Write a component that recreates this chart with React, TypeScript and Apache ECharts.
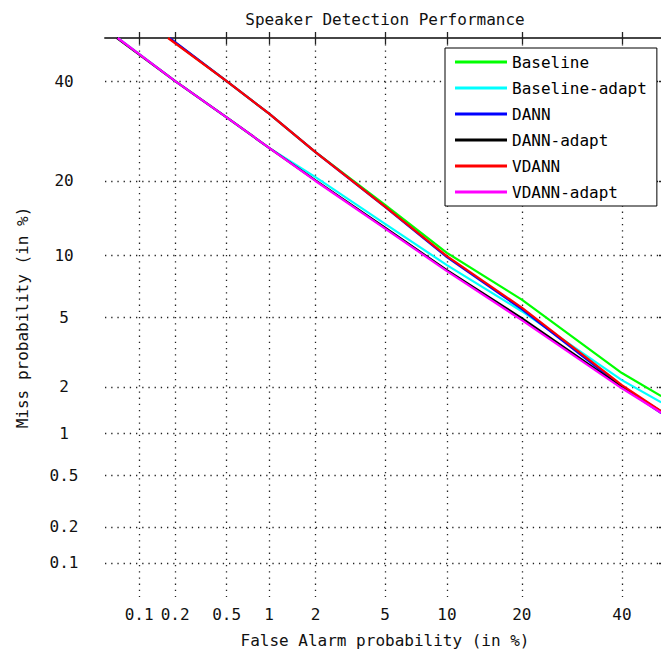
import React, { useEffect, useRef } from "react";
import * as echarts from "echarts";

// DET plot: both axes on a normal-deviate (probit) scale, values in percent.
const AXIS_MIN_PCT = 0.05;
const AXIS_MAX_PCT = 50;

const TICK_PCTS = [0.1, 0.2, 0.5, 1, 2, 5, 10, 20, 40];
const TICK_LABELS = ["0.1", "0.2", "0.5", "1", "2", "5", "10", "20", "40"];

const SERIES_NAMES = ["Baseline", "Baseline-adapt", "DANN", "DANN-adapt", "VDANN", "VDANN-adapt"];
const SERIES_COLORS = ["#00ff00", "#00ffff", "#0000ff", "#000000", "#ff0000", "#ff00ff"];

// [false alarm %, miss %]
const BASELINE: [number, number][] = [
  [0.178, 50], [0.5, 40], [1, 32.8], [2, 25.1], [5, 16.3], [10, 10.3],
  [20, 6.18], [40, 2.43], [49.1, 1.75],
];
const BASELINE_ADAPT: [number, number][] = [
  [0.065, 50], [0.2, 40], [0.5, 32.0], [1, 25.9], [2, 20.65], [5, 13.7], [10, 9.06],
  [20, 5.39], [40, 2.2], [49.1, 1.6],
];
const DANN: [number, number][] = [
  [0.18, 50], [0.5, 40], [1, 32.8], [2, 25.1], [5, 16.0], [10, 9.86],
  [20, 5.52], [40, 2.01], [49.1, 1.36],
];
const DANN_ADAPT: [number, number][] = [
  [0.064, 50], [0.2, 40], [0.5, 32.0], [1, 25.9], [2, 20.1], [5, 13.2], [10, 8.59],
  [20, 4.96], [40, 1.99], [49.1, 1.4],
];
const VDANN: [number, number][] = [
  [0.175, 50], [0.5, 40], [1, 32.8], [2, 25.1], [5, 16.05], [10, 9.96],
  [20, 5.62], [40, 2.05], [49.1, 1.4],
];
const VDANN_ADAPT: [number, number][] = [
  [0.065, 50], [0.2, 40], [0.5, 32.0], [1, 25.9], [2, 20.0], [5, 13.1], [10, 8.5],
  [20, 4.84], [40, 1.96], [49.1, 1.37],
];

const SERIES_DATA = [BASELINE, BASELINE_ADAPT, DANN, DANN_ADAPT, VDANN, VDANN_ADAPT];

const FONT = "'DejaVu Sans Mono', 'Liberation Mono', monospace";

// Inverse of the standard normal CDF (Acklam's rational approximation).
function probit(p: number): number {
  const a = [-3.969683028665376e1, 2.209460984245205e2, -2.759285104469687e2, 1.38357751867269e2, -3.066479806614716e1, 2.506628277459239];
  const b = [-5.447609879822406e1, 1.615858368580409e2, -1.556989798598866e2, 6.680131188771972e1, -1.328068155288572e1];
  const c = [-7.784894002430293e-3, -3.223964580411365e-1, -2.400758277161838, -2.549671669506445, 4.374664141464968, 2.938163982698783];
  const d = [7.784695709041462e-3, 3.224671290700398e-1, 2.445134137142996, 3.754408661907416];
  const pl = 0.02425;
  if (p < pl) {
    const q = Math.sqrt(-2 * Math.log(p));
    return (((((c[0] * q + c[1]) * q + c[2]) * q + c[3]) * q + c[4]) * q + c[5]) / ((((d[0] * q + d[1]) * q + d[2]) * q + d[3]) * q + 1);
  }
  if (p <= 1 - pl) {
    const q = p - 0.5;
    const r = q * q;
    return ((((((a[0] * r + a[1]) * r + a[2]) * r + a[3]) * r + a[4]) * r + a[5]) * q) / (((((b[0] * r + b[1]) * r + b[2]) * r + b[3]) * r + b[4]) * r + 1);
  }
  const q = Math.sqrt(-2 * Math.log(1 - p));
  return -(((((c[0] * q + c[1]) * q + c[2]) * q + c[3]) * q + c[4]) * q + c[5]) / ((((d[0] * q + d[1]) * q + d[2]) * q + d[3]) * q + 1);
}

const dev = (pct: number) => probit(pct / 100);
const TICK_DEVS = TICK_PCTS.map(dev);

function tickLabel(v: number): string {
  for (let i = 0; i < TICK_DEVS.length; i++) {
    if (Math.abs(TICK_DEVS[i] - v) < 1e-6) return TICK_LABELS[i];
  }
  return "";
}

const GRID = { left: 105, top: 38, width: 560, height: 559 };

export default function App() {
  const ref = useRef<HTMLDivElement>(null);

  useEffect(() => {
    if (!ref.current) return;
    const chart = echarts.init(ref.current, undefined, { renderer: "svg" });
    const min = dev(AXIS_MIN_PCT);
    const max = dev(AXIS_MAX_PCT);
    const axisLine = { show: true, lineStyle: { color: "#3a3a3a", width: 1.6 } };
    const tick = { show: true, inside: true, length: 6, customValues: TICK_DEVS, lineStyle: { color: "#222", width: 1.3 } };
    const gridLine = { show: true, lineStyle: { color: "#222", width: 1.3, type: [1.3, 4.9] as any } };
    const labelText = { fontFamily: FONT, fontSize: 16, color: "#111" };

    chart.setOption({
      animation: false,
      backgroundColor: "#ffffff",
      grid: { ...GRID, containLabel: false, outerBoundsMode: "none" },
      graphic: [
        {
          type: "text",
          x: 385,
          y: 19,
          style: { text: "Speaker Detection Performance", align: "center", verticalAlign: "middle", font: `16px ${FONT}`, fill: "#111" },
        },
      ],
      legend: {
        orient: "vertical",
        left: 445,
        top: 48,
        padding: [6, 10, 6, 10],
        itemGap: 10,
        itemWidth: 52,
        itemHeight: 3,
        icon: "rect",
        selectedMode: false,
        borderColor: "#000",
        borderWidth: 1,
        backgroundColor: "#ffffff",
        textStyle: { ...labelText, color: "#000", lineHeight: 16 },
        data: SERIES_NAMES,
      },
      xAxis: [
        {
          type: "value",
          min,
          max,
          position: "bottom",
          name: "False Alarm probability (in %)",
          nameLocation: "middle",
          nameGap: 35,
          nameTextStyle: labelText,
          axisLine,
          axisTick: tick,
          splitLine: gridLine,
          axisLabel: { ...labelText, margin: 9, customValues: TICK_DEVS, formatter: (v: number) => tickLabel(v) },
        },
        {
          type: "value",
          min,
          max,
          position: "top",
          axisLine,
          axisTick: tick,
          splitLine: { show: false },
          axisLabel: { show: false },
        },
      ],
      yAxis: [
        {
          type: "value",
          min,
          max,
          position: "left",
          name: "Miss probability (in %)",
          nameLocation: "middle",
          nameGap: 75,
          nameTextStyle: labelText,
          axisLine,
          axisTick: tick,
          splitLine: gridLine,
          axisLabel: { ...labelText, margin: 41, align: "center", customValues: TICK_DEVS, formatter: (v: number) => tickLabel(v) },
        },
        {
          type: "value",
          min,
          max,
          position: "right",
          axisLine,
          axisTick: tick,
          splitLine: { show: false },
          axisLabel: { show: false },
        },
      ],
      series: SERIES_NAMES.map((name, i) => ({
        name,
        type: "line",
        xAxisIndex: 0,
        yAxisIndex: 0,
        showSymbol: false,
        symbol: "none",
        clip: true,
        color: SERIES_COLORS[i],
        lineStyle: { color: SERIES_COLORS[i], width: 2.2 },
        data: SERIES_DATA[i].map(([fa, miss]) => [dev(fa), dev(miss)]),
      })),
    });
    return () => chart.dispose();
  }, []);

  return <div ref={ref} style={{ position: "absolute", left: 0, top: 0, width: 661, height: 649 }} />;
}
